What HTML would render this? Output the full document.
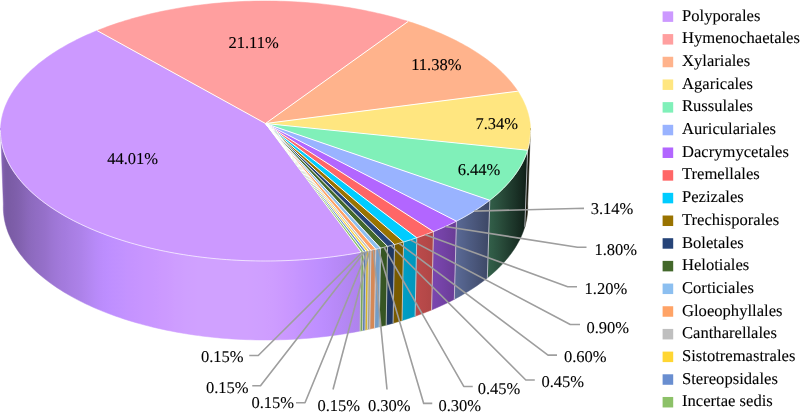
<!DOCTYPE html>
<html><head><meta charset="utf-8"><title>Pie</title>
<style>
html,body{margin:0;padding:0;background:#fff;}
body{width:800px;height:417px;overflow:hidden;position:relative;}
.t{font-family:"Liberation Serif",serif;fill:#000;text-rendering:geometricPrecision;stroke:#000;stroke-width:0.1px;}
</style></head><body>
<svg width="800" height="417" viewBox="0 0 800 417" style="position:absolute;left:0;top:0;will-change:transform">
<defs><linearGradient id="g0" gradientUnits="userSpaceOnUse" x1="1.94" y1="0" x2="360.65" y2="0"><stop offset="0%" stop-color="#8D6ABF"/><stop offset="0%" stop-color="#8D6ABE"/><stop offset="0%" stop-color="#8D6ABE"/><stop offset="0.01%" stop-color="#8C69BC"/><stop offset="0.06%" stop-color="#8967B9"/><stop offset="0.14%" stop-color="#8664B5"/><stop offset="0.23%" stop-color="#8362B1"/><stop offset="0.35%" stop-color="#8160AE"/><stop offset="0.49%" stop-color="#7F5FAB"/><stop offset="0.65%" stop-color="#7D5EA8"/><stop offset="0.84%" stop-color="#7B5CA6"/><stop offset="1.05%" stop-color="#7A5BA4"/><stop offset="1.28%" stop-color="#795BA4"/><stop offset="1.53%" stop-color="#795BA4"/><stop offset="1.81%" stop-color="#7A5BA4"/><stop offset="2.11%" stop-color="#7A5CA5"/><stop offset="2.43%" stop-color="#7B5CA6"/><stop offset="2.78%" stop-color="#7C5DA7"/><stop offset="3.15%" stop-color="#7D5DA8"/><stop offset="3.54%" stop-color="#7E5EA9"/><stop offset="3.95%" stop-color="#7E5FAB"/><stop offset="4.39%" stop-color="#8060AC"/><stop offset="4.84%" stop-color="#8161AE"/><stop offset="5.32%" stop-color="#8362B1"/><stop offset="5.83%" stop-color="#8564B3"/><stop offset="6.35%" stop-color="#8765B6"/><stop offset="6.9%" stop-color="#8967B9"/><stop offset="7.47%" stop-color="#8B68BC"/><stop offset="8.06%" stop-color="#8D6ABE"/><stop offset="8.67%" stop-color="#8E6BC0"/><stop offset="9.3%" stop-color="#906CC2"/><stop offset="9.95%" stop-color="#916DC4"/><stop offset="10.63%" stop-color="#936EC6"/><stop offset="11.33%" stop-color="#946FC8"/><stop offset="12.04%" stop-color="#9670CA"/><stop offset="12.78%" stop-color="#9872CD"/><stop offset="13.54%" stop-color="#9B74D1"/><stop offset="14.32%" stop-color="#9D76D4"/><stop offset="15.12%" stop-color="#9F77D7"/><stop offset="15.93%" stop-color="#A179D9"/><stop offset="16.77%" stop-color="#A37ADC"/><stop offset="17.63%" stop-color="#A47BDE"/><stop offset="18.5%" stop-color="#A67DE0"/><stop offset="19.4%" stop-color="#A87EE3"/><stop offset="20.31%" stop-color="#AA7FE5"/><stop offset="21.24%" stop-color="#AB81E7"/><stop offset="22.19%" stop-color="#AD82EA"/><stop offset="23.16%" stop-color="#B084ED"/><stop offset="24.14%" stop-color="#B286F1"/><stop offset="25.14%" stop-color="#B588F4"/><stop offset="26.16%" stop-color="#B78AF8"/><stop offset="27.2%" stop-color="#BA8BFB"/><stop offset="28.25%" stop-color="#BC8DFD"/><stop offset="29.31%" stop-color="#BD8EFF"/><stop offset="30.4%" stop-color="#BF8FFF"/><stop offset="31.49%" stop-color="#C090FF"/><stop offset="32.6%" stop-color="#C191FF"/><stop offset="33.73%" stop-color="#C292FF"/><stop offset="34.87%" stop-color="#C493FF"/><stop offset="36.02%" stop-color="#C593FF"/><stop offset="37.19%" stop-color="#C694FF"/><stop offset="38.37%" stop-color="#C795FF"/><stop offset="39.56%" stop-color="#C896FF"/><stop offset="40.76%" stop-color="#C996FF"/><stop offset="41.98%" stop-color="#C997FF"/><stop offset="43.21%" stop-color="#CA98FF"/><stop offset="44.44%" stop-color="#CC99FF"/><stop offset="45.69%" stop-color="#CC9AFF"/><stop offset="46.95%" stop-color="#CD9BFF"/><stop offset="48.22%" stop-color="#CE9DFF"/><stop offset="49.49%" stop-color="#CE9EFF"/><stop offset="50.78%" stop-color="#CF9FFF"/><stop offset="52.07%" stop-color="#CFA0FF"/><stop offset="53.37%" stop-color="#D0A0FF"/><stop offset="54.68%" stop-color="#D0A1FF"/><stop offset="55.99%" stop-color="#D0A1FF"/><stop offset="57.31%" stop-color="#D0A1FF"/><stop offset="58.64%" stop-color="#D0A1FF"/><stop offset="59.97%" stop-color="#D0A1FF"/><stop offset="61.31%" stop-color="#D0A1FF"/><stop offset="62.65%" stop-color="#D0A1FF"/><stop offset="63.99%" stop-color="#D0A1FF"/><stop offset="65.34%" stop-color="#D0A1FF"/><stop offset="66.69%" stop-color="#D0A1FF"/><stop offset="68.05%" stop-color="#D0A1FF"/><stop offset="69.4%" stop-color="#D0A0FF"/><stop offset="70.76%" stop-color="#CFA0FF"/><stop offset="72.12%" stop-color="#CF9FFF"/><stop offset="73.47%" stop-color="#CF9EFF"/><stop offset="74.83%" stop-color="#CE9DFF"/><stop offset="76.19%" stop-color="#CD9CFF"/><stop offset="77.55%" stop-color="#CC9AFF"/><stop offset="78.9%" stop-color="#CB98FF"/><stop offset="80.26%" stop-color="#C997FF"/><stop offset="81.61%" stop-color="#C796FF"/><stop offset="82.96%" stop-color="#C594FF"/><stop offset="84.3%" stop-color="#C393FF"/><stop offset="85.64%" stop-color="#C291FF"/><stop offset="86.98%" stop-color="#C090FF"/><stop offset="88.31%" stop-color="#BE8FFF"/><stop offset="89.64%" stop-color="#BC8DFE"/><stop offset="90.96%" stop-color="#BA8CFC"/><stop offset="92.27%" stop-color="#B98AF9"/><stop offset="93.58%" stop-color="#B789F7"/><stop offset="94.88%" stop-color="#B588F5"/><stop offset="96.17%" stop-color="#B387F2"/><stop offset="97.46%" stop-color="#B285F0"/><stop offset="98.73%" stop-color="#B084EE"/><stop offset="100%" stop-color="#AE83EB"/></linearGradient><linearGradient id="g3" gradientUnits="userSpaceOnUse" x1="526.21" y1="0" x2="529.06" y2="0"><stop offset="0%" stop-color="#201D10"/><stop offset="22.27%" stop-color="#1E1B0F"/><stop offset="41.81%" stop-color="#1C1A0E"/><stop offset="58.61%" stop-color="#1B180D"/><stop offset="72.69%" stop-color="#19170D"/><stop offset="84.03%" stop-color="#18160C"/><stop offset="92.64%" stop-color="#17150C"/><stop offset="98.54%" stop-color="#17150C"/><stop offset="100%" stop-color="#17140B"/><stop offset="100%" stop-color="#16140B"/><stop offset="100%" stop-color="#16140B"/></linearGradient><linearGradient id="g4" gradientUnits="userSpaceOnUse" x1="488.57" y1="0" x2="526.21" y2="0"><stop offset="0%" stop-color="#33604A"/><stop offset="6.4%" stop-color="#315C47"/><stop offset="12.62%" stop-color="#2F5944"/><stop offset="18.65%" stop-color="#2D5542"/><stop offset="24.49%" stop-color="#2B523F"/><stop offset="30.13%" stop-color="#2A4E3C"/><stop offset="35.59%" stop-color="#284A39"/><stop offset="40.85%" stop-color="#264736"/><stop offset="45.92%" stop-color="#244334"/><stop offset="50.8%" stop-color="#224031"/><stop offset="55.48%" stop-color="#203D2F"/><stop offset="59.96%" stop-color="#1F3A2D"/><stop offset="64.24%" stop-color="#1E372B"/><stop offset="68.33%" stop-color="#1C3529"/><stop offset="72.21%" stop-color="#1B3227"/><stop offset="75.9%" stop-color="#193025"/><stop offset="79.38%" stop-color="#182D23"/><stop offset="82.67%" stop-color="#172B21"/><stop offset="85.75%" stop-color="#162920"/><stop offset="88.63%" stop-color="#15271E"/><stop offset="91.31%" stop-color="#14251D"/><stop offset="93.79%" stop-color="#13231B"/><stop offset="96.06%" stop-color="#12221A"/><stop offset="98.13%" stop-color="#112019"/><stop offset="100%" stop-color="#101E17"/></linearGradient><linearGradient id="g5" gradientUnits="userSpaceOnUse" x1="455.39" y1="0" x2="488.57" y2="0"><stop offset="0%" stop-color="#5A6A96"/><stop offset="9.35%" stop-color="#586792"/><stop offset="18.52%" stop-color="#55648E"/><stop offset="27.51%" stop-color="#53618A"/><stop offset="36.32%" stop-color="#505E85"/><stop offset="44.94%" stop-color="#4D5B81"/><stop offset="53.38%" stop-color="#4B587D"/><stop offset="61.63%" stop-color="#495579"/><stop offset="69.69%" stop-color="#465275"/><stop offset="77.56%" stop-color="#445071"/><stop offset="85.24%" stop-color="#424D6D"/><stop offset="92.72%" stop-color="#3F4A6A"/><stop offset="100%" stop-color="#3D4866"/></linearGradient><linearGradient id="g6" gradientUnits="userSpaceOnUse" x1="432.53" y1="0" x2="455.39" y2="0"><stop offset="0%" stop-color="#7A46AF"/><stop offset="14.97%" stop-color="#7845AC"/><stop offset="29.72%" stop-color="#7644A9"/><stop offset="44.24%" stop-color="#7442A6"/><stop offset="58.53%" stop-color="#7141A2"/><stop offset="72.59%" stop-color="#6F3F9E"/><stop offset="86.42%" stop-color="#6C3E9A"/><stop offset="100%" stop-color="#693C96"/></linearGradient><linearGradient id="g7" gradientUnits="userSpaceOnUse" x1="415.92" y1="0" x2="432.53" y2="0"><stop offset="0%" stop-color="#BC4B4B"/><stop offset="20.49%" stop-color="#BA4A4A"/><stop offset="40.74%" stop-color="#B74949"/><stop offset="60.75%" stop-color="#B54848"/><stop offset="80.5%" stop-color="#B24747"/><stop offset="100%" stop-color="#AF4646"/></linearGradient><linearGradient id="g8" gradientUnits="userSpaceOnUse" x1="402.82" y1="0" x2="415.92" y2="0"><stop offset="0%" stop-color="#009EC5"/><stop offset="25.38%" stop-color="#009CC3"/><stop offset="50.51%" stop-color="#009AC1"/><stop offset="75.38%" stop-color="#0099BF"/><stop offset="100%" stop-color="#0097BC"/></linearGradient><linearGradient id="g9" gradientUnits="userSpaceOnUse" x1="393.79" y1="0" x2="402.82" y2="0"><stop offset="0%" stop-color="#795B00"/><stop offset="33.6%" stop-color="#785A00"/><stop offset="66.94%" stop-color="#775A00"/><stop offset="100%" stop-color="#765900"/></linearGradient><linearGradient id="g10" gradientUnits="userSpaceOnUse" x1="386.89" y1="0" x2="393.79" y2="0"><stop offset="0%" stop-color="#1F3761"/><stop offset="50.21%" stop-color="#1E3660"/><stop offset="100%" stop-color="#1E365F"/></linearGradient><linearGradient id="g11" gradientUnits="userSpaceOnUse" x1="379.87" y1="0" x2="386.89" y2="0"><stop offset="0%" stop-color="#375523"/><stop offset="50.2%" stop-color="#365523"/><stop offset="100%" stop-color="#365423"/></linearGradient><linearGradient id="g12" gradientUnits="userSpaceOnUse" x1="375.13" y1="0" x2="379.87" y2="0"><stop offset="0%" stop-color="#749EC7"/><stop offset="50.12%" stop-color="#739DC6"/><stop offset="100%" stop-color="#739DC5"/></linearGradient><linearGradient id="g13" gradientUnits="userSpaceOnUse" x1="370.34" y1="0" x2="375.13" y2="0"><stop offset="0%" stop-color="#D68855"/><stop offset="50.12%" stop-color="#D48855"/><stop offset="100%" stop-color="#D38755"/></linearGradient><linearGradient id="g14" gradientUnits="userSpaceOnUse" x1="367.94" y1="0" x2="370.34" y2="0"><stop offset="0%" stop-color="#A1A1A1"/><stop offset="50.06%" stop-color="#A0A0A0"/><stop offset="100%" stop-color="#A0A0A0"/></linearGradient><linearGradient id="g15" gradientUnits="userSpaceOnUse" x1="365.52" y1="0" x2="367.94" y2="0"><stop offset="0%" stop-color="#D8B52B"/><stop offset="50.05%" stop-color="#D7B52B"/><stop offset="100%" stop-color="#D7B42B"/></linearGradient><linearGradient id="g16" gradientUnits="userSpaceOnUse" x1="363.09" y1="0" x2="365.52" y2="0"><stop offset="0%" stop-color="#5979B1"/><stop offset="50.05%" stop-color="#5978B0"/><stop offset="100%" stop-color="#5978B0"/></linearGradient><linearGradient id="g17" gradientUnits="userSpaceOnUse" x1="360.65" y1="0" x2="363.09" y2="0"><stop offset="0%" stop-color="#78A559"/><stop offset="50.05%" stop-color="#77A559"/><stop offset="100%" stop-color="#77A458"/></linearGradient></defs>
<polygon points="361.19,252.24 356.62,253.08 352.01,253.88 347.38,254.64 342.72,255.36 338.03,256.04 333.31,256.68 328.57,257.27 323.8,257.82 319.02,258.33 314.22,258.79 309.39,259.21 304.56,259.58 299.71,259.92 294.84,260.2 289.97,260.45 285.08,260.65 280.19,260.8 275.3,260.92 270.4,260.98 265.5,261 260.6,260.98 255.7,260.92 250.81,260.8 245.92,260.65 241.03,260.45 236.16,260.2 231.29,259.92 226.44,259.58 221.61,259.21 216.78,258.79 211.98,258.33 207.2,257.82 202.43,257.27 197.69,256.68 192.97,256.04 188.28,255.36 183.62,254.64 178.99,253.88 174.38,253.08 169.81,252.24 165.28,251.35 160.78,250.43 156.31,249.46 151.89,248.45 147.5,247.41 143.16,246.33 138.86,245.2 134.61,244.04 130.4,242.85 126.24,241.61 122.13,240.34 118.07,239.03 114.06,237.69 110.1,236.31 106.2,234.9 102.36,233.46 98.57,231.98 94.84,230.47 91.16,228.92 87.55,227.35 84,225.74 80.52,224.1 77.09,222.44 73.73,220.74 70.44,219.02 67.22,217.27 64.06,215.49 60.97,213.68 57.95,211.85 55,209.99 52.12,208.11 49.31,206.21 46.58,204.28 43.92,202.33 41.33,200.36 38.82,198.37 36.39,196.36 34.03,194.33 31.75,192.28 29.54,190.21 27.42,188.12 25.37,186.02 23.4,183.91 21.51,181.77 19.7,179.63 17.97,177.47 16.32,175.29 14.75,173.11 13.26,170.91 11.85,168.71 10.53,166.49 9.28,164.27 8.12,162.03 7.04,159.79 6.04,157.54 5.13,155.29 4.29,153.03 3.54,150.77 2.87,148.5 2.28,146.23 1.78,143.95 1.35,141.68 1.01,139.4 0.75,137.13 0.57,134.85 0.48,132.57 0.46,130.3 0.53,128.03 3.36,204.09 3.3,206.42 3.32,208.74 3.42,211.07 3.6,213.4 3.86,215.72 4.2,218.05 4.62,220.38 5.12,222.7 5.7,225.03 6.37,227.34 7.12,229.66 7.94,231.97 8.85,234.27 9.84,236.57 10.91,238.86 12.07,241.15 13.3,243.42 14.61,245.69 16.01,247.94 17.48,250.19 19.04,252.42 20.67,254.64 22.39,256.85 24.18,259.05 26.05,261.23 28,263.39 30.03,265.54 32.14,267.67 34.32,269.78 36.58,271.88 38.91,273.95 41.32,276.01 43.81,278.05 46.37,280.06 49,282.05 51.7,284.02 54.48,285.97 57.33,287.89 60.25,289.79 63.24,291.66 66.29,293.5 69.42,295.32 72.61,297.11 75.87,298.87 79.19,300.6 82.58,302.31 86.03,303.98 89.54,305.62 93.11,307.23 96.74,308.81 100.43,310.35 104.18,311.86 107.99,313.34 111.85,314.78 115.76,316.19 119.72,317.56 123.74,318.9 127.81,320.2 131.92,321.46 136.08,322.68 140.29,323.87 144.54,325.01 148.83,326.12 153.17,327.19 157.54,328.21 161.96,329.2 166.41,330.15 170.89,331.05 175.41,331.91 179.96,332.73 184.54,333.51 189.16,334.25 193.79,334.94 198.46,335.59 203.15,336.19 207.86,336.75 212.59,337.27 217.34,337.74 222.1,338.17 226.89,338.56 231.68,338.9 236.49,339.19 241.31,339.44 246.14,339.64 250.97,339.8 255.81,339.92 260.65,339.98 265.5,340.01 270.35,339.98 275.19,339.92 280.03,339.8 284.86,339.64 289.69,339.44 294.51,339.19 299.32,338.9 304.11,338.56 308.9,338.17 313.66,337.74 318.41,337.27 323.14,336.75 327.85,336.19 332.54,335.59 337.21,334.94 341.84,334.25 346.46,333.51 351.04,332.73 355.59,331.91 360.11,331.05" fill="url(#g0)" stroke="url(#g0)" stroke-width="0.5"/>
<polygon points="530.47,128.03 530.54,130.25 530.52,132.47 530.43,134.69 530.27,136.91 530.02,139.13 529.7,141.36 529.3,143.58 528.82,145.8 528.26,148.02 527.63,150.23 524.8,226.8 525.43,224.53 525.98,222.26 526.46,219.99 526.86,217.72 527.18,215.45 527.42,213.18 527.59,210.9 527.68,208.63 527.7,206.36 527.64,204.09" fill="url(#g3)" stroke="url(#g3)" stroke-width="0.5"/>
<polygon points="527.63,150.23 526.92,152.42 526.14,154.6 525.28,156.78 524.34,158.95 523.33,161.12 522.24,163.28 521.08,165.43 519.83,167.58 518.52,169.71 517.12,171.84 515.65,173.96 514.11,176.06 512.49,178.16 510.8,180.24 509.03,182.31 507.18,184.37 505.27,186.41 503.27,188.43 501.21,190.45 499.07,192.44 496.87,194.42 494.58,196.38 492.23,198.32 489.81,200.25 487.34,277.93 489.73,275.96 492.06,273.98 494.32,271.97 496.5,269.95 498.62,267.91 500.66,265.85 502.63,263.78 504.53,261.7 506.36,259.59 508.11,257.48 509.79,255.35 511.39,253.21 512.92,251.06 514.38,248.89 515.76,246.72 517.07,244.53 518.3,242.34 519.45,240.14 520.53,237.93 521.54,235.72 522.46,233.49 523.32,231.27 524.09,229.03 524.8,226.8" fill="url(#g4)" stroke="url(#g4)" stroke-width="0.5"/>
<polygon points="489.81,200.25 487.38,202.11 484.89,203.95 482.33,205.77 479.7,207.56 477.01,209.34 474.26,211.1 471.44,212.83 468.57,214.55 465.63,216.24 462.63,217.9 459.57,219.54 456.45,221.16 454.32,299.3 457.41,297.65 460.44,295.97 463.4,294.27 466.31,292.54 469.16,290.79 471.95,289.02 474.67,287.22 477.33,285.41 479.93,283.57 482.46,281.71 484.93,279.83 487.34,277.93" fill="url(#g5)" stroke="url(#g5)" stroke-width="0.5"/>
<polygon points="456.45,221.16 453.33,222.72 450.15,224.26 446.92,225.77 443.64,227.26 440.3,228.72 436.91,230.16 433.47,231.56 431.59,309.93 434.99,308.49 438.35,307.03 441.65,305.53 444.9,304.01 448.09,302.47 451.24,300.9 454.32,299.3" fill="url(#g6)" stroke="url(#g6)" stroke-width="0.5"/>
<polygon points="433.47,231.56 430.21,232.85 426.92,234.11 423.57,235.35 420.19,236.56 416.77,237.75 415.07,316.25 418.46,315.04 421.8,313.8 425.11,312.54 428.37,311.25 431.59,309.93" fill="url(#g7)" stroke="url(#g7)" stroke-width="0.5"/>
<polygon points="416.77,237.75 413.53,238.84 410.25,239.9 406.94,240.95 403.59,241.96 402.04,320.56 405.35,319.52 408.62,318.45 411.87,317.36 415.07,316.25" fill="url(#g8)" stroke="url(#g8)" stroke-width="0.5"/>
<polygon points="403.59,241.96 400.59,242.85 397.57,243.72 394.52,244.56 393.07,323.21 396.08,322.35 399.07,321.46 402.04,320.56" fill="url(#g9)" stroke="url(#g9)" stroke-width="0.5"/>
<polygon points="394.52,244.56 391.06,245.49 387.57,246.39 386.2,325.08 389.65,324.16 393.07,323.21" fill="url(#g10)" stroke="url(#g10)" stroke-width="0.5"/>
<polygon points="387.57,246.39 384.06,247.27 380.51,248.13 379.22,326.85 382.72,325.98 386.2,325.08" fill="url(#g11)" stroke="url(#g11)" stroke-width="0.5"/>
<polygon points="380.51,248.13 378.14,248.68 375.75,249.22 374.51,327.97 376.87,327.42 379.22,326.85" fill="url(#g12)" stroke="url(#g12)" stroke-width="0.5"/>
<polygon points="375.75,249.22 373.35,249.75 370.94,250.27 369.75,329.05 372.13,328.51 374.51,327.97" fill="url(#g13)" stroke="url(#g13)" stroke-width="0.5"/>
<polygon points="370.94,250.27 369.73,250.53 368.52,250.78 367.35,329.56 368.55,329.31 369.75,329.05" fill="url(#g14)" stroke="url(#g14)" stroke-width="0.5"/>
<polygon points="368.52,250.78 367.3,251.03 366.08,251.28 364.95,330.07 366.15,329.82 367.35,329.56" fill="url(#g15)" stroke="url(#g15)" stroke-width="0.5"/>
<polygon points="366.08,251.28 364.86,251.52 363.64,251.76 362.53,330.57 363.74,330.32 364.95,330.07" fill="url(#g16)" stroke="url(#g16)" stroke-width="0.5"/>
<polygon points="363.64,251.76 362.41,252 361.19,252.24 360.11,331.05 361.32,330.81 362.53,330.57" fill="url(#g17)" stroke="url(#g17)" stroke-width="0.5"/>
<line x1="361.19" y1="252.24" x2="360.11" y2="331.05" stroke="#DCDCE4" stroke-width="0.9" stroke-opacity="0.85"/>
<line x1="527.63" y1="150.23" x2="524.8" y2="226.8" stroke="#DCDCE4" stroke-width="0.9" stroke-opacity="0.85"/>
<line x1="489.81" y1="200.25" x2="487.34" y2="277.93" stroke="#DCDCE4" stroke-width="0.9" stroke-opacity="0.85"/>
<line x1="456.45" y1="221.16" x2="454.32" y2="299.3" stroke="#DCDCE4" stroke-width="0.9" stroke-opacity="0.85"/>
<line x1="433.47" y1="231.56" x2="431.59" y2="309.93" stroke="#DCDCE4" stroke-width="0.9" stroke-opacity="0.85"/>
<line x1="416.77" y1="237.75" x2="415.07" y2="316.25" stroke="#DCDCE4" stroke-width="0.9" stroke-opacity="0.85"/>
<line x1="403.59" y1="241.96" x2="402.04" y2="320.56" stroke="#DCDCE4" stroke-width="0.9" stroke-opacity="0.85"/>
<line x1="394.52" y1="244.56" x2="393.07" y2="323.21" stroke="#DCDCE4" stroke-width="0.9" stroke-opacity="0.85"/>
<line x1="387.57" y1="246.39" x2="386.2" y2="325.08" stroke="#DCDCE4" stroke-width="0.9" stroke-opacity="0.85"/>
<line x1="380.51" y1="248.13" x2="379.22" y2="326.85" stroke="#DCDCE4" stroke-width="0.9" stroke-opacity="0.85"/>
<line x1="375.75" y1="249.22" x2="374.51" y2="327.97" stroke="#DCDCE4" stroke-width="0.9" stroke-opacity="0.85"/>
<line x1="370.94" y1="250.27" x2="369.75" y2="329.05" stroke="#DCDCE4" stroke-width="0.9" stroke-opacity="0.85"/>
<line x1="368.52" y1="250.78" x2="367.35" y2="329.56" stroke="#DCDCE4" stroke-width="0.9" stroke-opacity="0.85"/>
<line x1="366.08" y1="251.28" x2="364.95" y2="330.07" stroke="#DCDCE4" stroke-width="0.9" stroke-opacity="0.85"/>
<line x1="363.64" y1="251.76" x2="362.53" y2="330.57" stroke="#DCDCE4" stroke-width="0.9" stroke-opacity="0.85"/>
<polygon points="265.5,123.5 361.19,252.24 356.63,253.08 352.05,253.88 347.43,254.64 342.79,255.35 338.11,256.03 333.42,256.66 328.69,257.25 323.95,257.8 319.18,258.31 314.4,258.77 309.59,259.19 304.77,259.57 299.94,259.9 295.1,260.19 290.24,260.44 285.38,260.64 280.51,260.8 275.63,260.91 270.75,260.98 265.87,261 260.98,260.99 256.1,260.92 251.23,260.82 246.35,260.66 241.49,260.47 236.63,260.23 231.79,259.95 226.95,259.62 222.13,259.25 217.33,258.84 212.54,258.38 207.77,257.88 203.02,257.34 198.29,256.76 193.59,256.13 188.91,255.46 184.27,254.75 179.64,253.99 175.05,253.2 170.5,252.37 165.97,251.49 161.48,250.57 157.03,249.62 152.62,248.62 148.24,247.59 143.91,246.52 139.62,245.4 135.37,244.26 131.17,243.07 127.02,241.85 122.91,240.59 118.86,239.29 114.85,237.96 110.9,236.6 107,235.2 103.16,233.76 99.37,232.3 95.64,230.8 91.97,229.27 88.36,227.7 84.81,226.11 81.32,224.49 77.89,222.83 74.53,221.15 71.24,219.44 68.01,217.7 64.84,215.94 61.75,214.14 58.72,212.33 55.76,210.48 52.88,208.62 50.06,206.73 47.32,204.81 44.65,202.88 42.05,200.92 39.53,198.94 37.08,196.94 34.71,194.92 32.41,192.89 30.19,190.83 28.05,188.76 25.99,186.67 24,184.57 22.09,182.45 20.26,180.31 18.52,178.16 16.85,176 15.26,173.83 13.75,171.65 12.32,169.45 10.97,167.25 9.7,165.03 8.52,162.81 7.41,160.58 6.39,158.34 5.45,156.1 4.58,153.85 3.81,151.6 3.11,149.34 2.49,147.08 1.96,144.81 1.51,142.55 1.13,140.28 0.84,138.01 0.63,135.75 0.51,133.48 0.46,131.21 0.49,128.95 0.6,126.69 0.8,124.43 1.07,122.18 1.42,119.93 1.85,117.69 2.36,115.45 2.95,113.23 3.61,111 4.36,108.79 5.17,106.59 6.07,104.39 7.04,102.21 8.09,100.03 9.21,97.87 10.41,95.72 11.68,93.58 13.02,91.45 14.44,89.34 15.92,87.24 17.48,85.16 19.11,83.09 20.81,81.04 22.58,79 24.42,76.98 26.33,74.98 28.3,73 30.34,71.04 32.44,69.09 34.61,67.16 36.85,65.26 39.15,63.37 41.51,61.51 43.93,59.66 46.41,57.84 48.96,56.04 51.56,54.26 54.22,52.51 56.94,50.78 59.71,49.07 62.55,47.39 65.43,45.73 68.37,44.1 71.36,42.5 74.41,40.92 77.51,39.36 80.65,37.83 83.85,36.33 87.09,34.86 90.38,33.42 93.72,32 97.11,30.61" fill="#CC99FF" stroke="#CC99FF" stroke-width="0.5"/>
<polygon points="265.5,123.5 97.11,30.61 100.55,29.24 104.03,27.91 107.56,26.6 111.13,25.33 114.73,24.08 118.38,22.86 122.07,21.68 125.8,20.52 129.56,19.4 133.35,18.31 137.19,17.25 141.05,16.22 144.95,15.22 148.88,14.26 152.84,13.33 156.83,12.43 160.84,11.56 164.89,10.73 168.96,9.93 173.05,9.16 177.17,8.43 181.31,7.73 185.47,7.07 189.66,6.43 193.86,5.84 198.08,5.27 202.32,4.75 206.57,4.25 210.84,3.79 215.13,3.37 219.42,2.98 223.73,2.62 228.05,2.3 232.38,2.02 236.72,1.77 241.06,1.55 245.41,1.37 249.77,1.23 254.13,1.12 258.49,1.04 262.85,1 267.22,1 271.58,1.03 275.95,1.1 280.31,1.2 284.66,1.34 289.02,1.51 293.36,1.72 297.7,1.96 302.03,2.24 306.35,2.55 310.66,2.9 314.96,3.28 319.25,3.7 323.52,4.15 327.78,4.64 332.02,5.16 336.25,5.72 340.45,6.31 344.64,6.93 348.81,7.59 352.95,8.28 357.08,9 361.18,9.76 365.25,10.56 369.3,11.38 373.32,12.24 377.32,13.13 381.28,14.06 385.22,15.02 389.12,16.01 393,17.03 396.83,18.08 400.64,19.17 404.41,20.28 408.14,21.43" fill="#FF9F9F" stroke="#FF9F9F" stroke-width="0.5"/>
<polygon points="265.5,123.5 408.14,21.43 411.83,22.61 415.49,23.82 419.1,25.06 422.68,26.33 426.21,27.62 429.7,28.95 433.15,30.31 436.55,31.7 439.91,33.11 443.22,34.56 446.48,36.03 449.7,37.53 452.86,39.05 455.98,40.6 459.04,42.18 462.05,43.79 465.01,45.42 467.92,47.08 470.77,48.76 473.56,50.47 476.3,52.2 478.97,53.95 481.6,55.73 484.16,57.53 486.66,59.35 489.1,61.2 491.47,63.07 493.79,64.95 496.04,66.86 498.22,68.79 500.35,70.74 502.4,72.71 504.39,74.69 506.31,76.7 508.16,78.72 509.95,80.76 511.66,82.81 513.31,84.89 514.88,86.97 516.38,89.07 517.81,91.19" fill="#FFB38C" stroke="#FFB38C" stroke-width="0.5"/>
<polygon points="265.5,123.5 517.81,91.19 519.14,93.28 520.4,95.38 521.58,97.49 522.7,99.61 523.74,101.74 524.71,103.89 525.61,106.04 526.43,108.2 527.18,110.37 527.86,112.55 528.46,114.74 528.99,116.93 529.43,119.13 529.81,121.34 530.11,123.55 530.33,125.76 530.47,127.98 530.54,130.2 530.53,132.43 530.44,134.65 530.27,136.88 530.03,139.11 529.7,141.34 529.3,143.56 528.82,145.79 528.26,148.01 527.63,150.23" fill="#FFE680" stroke="#FFE680" stroke-width="0.5"/>
<polygon points="265.5,123.5 527.63,150.23 526.92,152.42 526.14,154.6 525.28,156.78 524.34,158.95 523.33,161.12 522.24,163.28 521.08,165.43 519.83,167.58 518.52,169.71 517.12,171.84 515.65,173.96 514.11,176.06 512.49,178.16 510.8,180.24 509.03,182.31 507.18,184.37 505.27,186.41 503.27,188.43 501.21,190.45 499.07,192.44 496.87,194.42 494.58,196.38 492.23,198.32 489.81,200.25" fill="#80F0B9" stroke="#80F0B9" stroke-width="0.5"/>
<polygon points="265.5,123.5 489.81,200.25 487.38,202.11 484.89,203.95 482.33,205.77 479.7,207.56 477.01,209.34 474.26,211.1 471.44,212.83 468.57,214.55 465.63,216.24 462.63,217.9 459.57,219.54 456.45,221.16" fill="#99B3FF" stroke="#99B3FF" stroke-width="0.5"/>
<polygon points="265.5,123.5 456.45,221.16 453.33,222.72 450.15,224.26 446.92,225.77 443.64,227.26 440.3,228.72 436.91,230.16 433.47,231.56" fill="#B266FF" stroke="#B266FF" stroke-width="0.5"/>
<polygon points="265.5,123.5 433.47,231.56 430.21,232.85 426.92,234.11 423.57,235.35 420.19,236.56 416.77,237.75" fill="#FF6666" stroke="#FF6666" stroke-width="0.5"/>
<polygon points="265.5,123.5 416.77,237.75 413.53,238.84 410.25,239.9 406.94,240.95 403.59,241.96" fill="#00CCFF" stroke="#00CCFF" stroke-width="0.5"/>
<polygon points="265.5,123.5 403.59,241.96 400.59,242.85 397.57,243.72 394.52,244.56" fill="#997300" stroke="#997300" stroke-width="0.5"/>
<polygon points="265.5,123.5 394.52,244.56 391.06,245.49 387.57,246.39" fill="#264478" stroke="#264478" stroke-width="0.5"/>
<polygon points="265.5,123.5 387.57,246.39 384.06,247.27 380.51,248.13" fill="#43682B" stroke="#43682B" stroke-width="0.5"/>
<polygon points="265.5,123.5 380.51,248.13 378.14,248.68 375.75,249.22" fill="#8CBFF0" stroke="#8CBFF0" stroke-width="0.5"/>
<polygon points="265.5,123.5 375.75,249.22 373.35,249.75 370.94,250.27" fill="#FFA366" stroke="#FFA366" stroke-width="0.5"/>
<polygon points="265.5,123.5 370.94,250.27 369.73,250.53 368.52,250.78" fill="#BFBFBF" stroke="#BFBFBF" stroke-width="0.5"/>
<polygon points="265.5,123.5 368.52,250.78 367.3,251.03 366.08,251.28" fill="#FFD633" stroke="#FFD633" stroke-width="0.5"/>
<polygon points="265.5,123.5 366.08,251.28 364.86,251.52 363.64,251.76" fill="#698ED0" stroke="#698ED0" stroke-width="0.5"/>
<polygon points="265.5,123.5 363.64,251.76 362.41,252 361.19,252.24" fill="#8CC168" stroke="#8CC168" stroke-width="0.5"/>
<line x1="265.5" y1="123.5" x2="361.19" y2="252.24" stroke="#FFFFFF" stroke-width="1"/>
<line x1="265.5" y1="123.5" x2="97.11" y2="30.61" stroke="#FFFFFF" stroke-width="1"/>
<line x1="265.5" y1="123.5" x2="408.14" y2="21.43" stroke="#FFFFFF" stroke-width="1"/>
<line x1="265.5" y1="123.5" x2="517.81" y2="91.19" stroke="#FFFFFF" stroke-width="1"/>
<line x1="265.5" y1="123.5" x2="527.63" y2="150.23" stroke="#FFFFFF" stroke-width="1"/>
<line x1="265.5" y1="123.5" x2="489.81" y2="200.25" stroke="#FFFFFF" stroke-width="1"/>
<line x1="265.5" y1="123.5" x2="456.45" y2="221.16" stroke="#FFFFFF" stroke-width="1"/>
<line x1="265.5" y1="123.5" x2="433.47" y2="231.56" stroke="#FFFFFF" stroke-width="1"/>
<line x1="265.5" y1="123.5" x2="416.77" y2="237.75" stroke="#FFFFFF" stroke-width="1"/>
<line x1="265.5" y1="123.5" x2="403.59" y2="241.96" stroke="#FFFFFF" stroke-width="1"/>
<line x1="265.5" y1="123.5" x2="394.52" y2="244.56" stroke="#FFFFFF" stroke-width="1"/>
<line x1="265.5" y1="123.5" x2="387.57" y2="246.39" stroke="#FFFFFF" stroke-width="1"/>
<line x1="265.5" y1="123.5" x2="380.51" y2="248.13" stroke="#FFFFFF" stroke-width="1"/>
<line x1="265.5" y1="123.5" x2="375.75" y2="249.22" stroke="#FFFFFF" stroke-width="1"/>
<line x1="265.5" y1="123.5" x2="370.94" y2="250.27" stroke="#FFFFFF" stroke-width="1"/>
<line x1="265.5" y1="123.5" x2="368.52" y2="250.78" stroke="#FFFFFF" stroke-width="1"/>
<line x1="265.5" y1="123.5" x2="366.08" y2="251.28" stroke="#FFFFFF" stroke-width="1"/>
<line x1="265.5" y1="123.5" x2="363.64" y2="251.76" stroke="#FFFFFF" stroke-width="1"/>
<polyline points="530.54,130.3 530.52,132.57 530.43,134.85 530.25,137.13 529.99,139.4 529.65,141.68 529.22,143.95 528.72,146.23 528.13,148.5 527.46,150.77 526.71,153.03 525.87,155.29 524.96,157.54 523.96,159.79 522.88,162.03 521.72,164.27 520.47,166.49 519.15,168.71 517.74,170.91 516.25,173.11 514.68,175.29 513.03,177.47 511.3,179.63 509.49,181.77 507.6,183.91 505.63,186.02 503.58,188.12 501.46,190.21 499.25,192.28 496.97,194.33 494.61,196.36 492.18,198.37 489.67,200.36 487.08,202.33 484.42,204.28 481.69,206.21 478.88,208.11 476,209.99 473.05,211.85 470.03,213.68 466.94,215.49 463.78,217.27 460.56,219.02 457.27,220.74 453.91,222.44 450.48,224.1 447,225.74 443.45,227.35 439.84,228.92 436.16,230.47 432.43,231.98 428.64,233.46 424.8,234.9 420.9,236.31 416.94,237.69 412.93,239.03 408.87,240.34 404.76,241.61 400.6,242.85 396.39,244.04 392.14,245.2 387.84,246.33 383.5,247.41 379.11,248.45 374.69,249.46 370.22,250.43 365.72,251.35 361.19,252.24 356.62,253.08 352.01,253.88 347.38,254.64 342.72,255.36 338.03,256.04 333.31,256.68 328.57,257.27 323.8,257.82 319.02,258.33 314.22,258.79 309.39,259.21 304.56,259.58 299.71,259.92 294.84,260.2 289.97,260.45 285.08,260.65 280.19,260.8 275.3,260.92 270.4,260.98 265.5,261 260.6,260.98 255.7,260.92 250.81,260.8 245.92,260.65 241.03,260.45 236.16,260.2 231.29,259.92 226.44,259.58 221.61,259.21 216.78,258.79 211.98,258.33 207.2,257.82 202.43,257.27 197.69,256.68 192.97,256.04 188.28,255.36 183.62,254.64 178.99,253.88 174.38,253.08 169.81,252.24 165.28,251.35 160.78,250.43 156.31,249.46 151.89,248.45 147.5,247.41 143.16,246.33 138.86,245.2 134.61,244.04 130.4,242.85 126.24,241.61 122.13,240.34 118.07,239.03 114.06,237.69 110.1,236.31 106.2,234.9 102.36,233.46 98.57,231.98 94.84,230.47 91.16,228.92 87.55,227.35 84,225.74 80.52,224.1 77.09,222.44 73.73,220.74 70.44,219.02 67.22,217.27 64.06,215.49 60.97,213.68 57.95,211.85 55,209.99 52.12,208.11 49.31,206.21 46.58,204.28 43.92,202.33 41.33,200.36 38.82,198.37 36.39,196.36 34.03,194.33 31.75,192.28 29.54,190.21 27.42,188.12 25.37,186.02 23.4,183.91 21.51,181.77 19.7,179.63 17.97,177.47 16.32,175.29 14.75,173.11 13.26,170.91 11.85,168.71 10.53,166.49 9.28,164.27 8.12,162.03 7.04,159.79 6.04,157.54 5.13,155.29 4.29,153.03 3.54,150.77 2.87,148.5 2.28,146.23 1.78,143.95 1.35,141.68 1.01,139.4 0.75,137.13 0.57,134.85 0.48,132.57 0.46,130.3" fill="none" stroke="#FFFFFF" stroke-width="0.8" stroke-opacity="0.85"/>
<polyline points="474.26,211.1 575,208.45 584,208.4" fill="none" stroke="#9E9E9E" stroke-width="1.6" stroke-linejoin="round"/>
<polyline points="445.29,226.52 577.5,247.25 586.5,247.25" fill="none" stroke="#9E9E9E" stroke-width="1.6" stroke-linejoin="round"/>
<polyline points="425.25,234.74 567.7,286.7 577,286.7" fill="none" stroke="#9E9E9E" stroke-width="1.6" stroke-linejoin="round"/>
<polyline points="410.25,239.9 570.25,324.45 580,324.45" fill="none" stroke="#9E9E9E" stroke-width="1.6" stroke-linejoin="round"/>
<polyline points="399.08,243.28 548,355.1 557,355.1" fill="none" stroke="#9E9E9E" stroke-width="1.6" stroke-linejoin="round"/>
<polyline points="391.06,245.49 525.8,380 534.8,380" fill="none" stroke="#9E9E9E" stroke-width="1.6" stroke-linejoin="round"/>
<polyline points="384.06,247.27 463.75,386.45 472.75,386.45" fill="none" stroke="#9E9E9E" stroke-width="1.6" stroke-linejoin="round"/>
<polyline points="378.14,248.68 423.7,403.4 432.25,403.4" fill="none" stroke="#9E9E9E" stroke-width="1.6" stroke-linejoin="round"/>
<polyline points="373.35,249.75 387,389.5" fill="none" stroke="#9E9E9E" stroke-width="1.6" stroke-linejoin="round"/>
<polyline points="369.73,250.53 333,389.5" fill="none" stroke="#9E9E9E" stroke-width="1.6" stroke-linejoin="round"/>
<polyline points="367.3,251.03 305,402.7 296,402.7" fill="none" stroke="#9E9E9E" stroke-width="1.6" stroke-linejoin="round"/>
<polyline points="364.86,251.52 260.5,385.75 252.25,385.75" fill="none" stroke="#9E9E9E" stroke-width="1.6" stroke-linejoin="round"/>
<polyline points="362.41,252 258.25,355.45 249.25,355.45" fill="none" stroke="#9E9E9E" stroke-width="1.6" stroke-linejoin="round"/>
<text x="107.2" y="163.75" font-size="16.5" class="t">44.01%</text>
<text x="228.45" y="47.5" font-size="16.5" class="t">21.11%</text>
<text x="411.2" y="69.5" font-size="16.5" class="t">11.38%</text>
<text x="475.45" y="128.5" font-size="16.5" class="t">7.34%</text>
<text x="457.7" y="175.3" font-size="16.5" class="t">6.44%</text>
<text x="590.7" y="214.4" font-size="16.5" class="t">3.14%</text>
<text x="594.4" y="254.6" font-size="16.5" class="t">1.80%</text>
<text x="584.6" y="293.75" font-size="16.5" class="t">1.20%</text>
<text x="586.45" y="332.5" font-size="16.5" class="t">0.90%</text>
<text x="563.9" y="361.75" font-size="16.5" class="t">0.60%</text>
<text x="541.4" y="387.25" font-size="16.5" class="t">0.45%</text>
<text x="477.7" y="393.5" font-size="16.5" class="t">0.45%</text>
<text x="438.4" y="410.75" font-size="16.5" class="t">0.30%</text>
<text x="367.95" y="410.8" font-size="16.5" class="t">0.30%</text>
<text x="317.4" y="410.8" font-size="16.5" class="t">0.15%</text>
<text x="251.45" y="408.25" font-size="16.5" class="t">0.15%</text>
<text x="205.9" y="392.8" font-size="16.5" class="t">0.15%</text>
<text x="200.95" y="361.75" font-size="16.5" class="t">0.15%</text>
<rect x="662.6" y="11.4" width="10.6" height="10.5" fill="#CC99FF"/>
<text x="682" y="20.7" font-size="16.6" class="t">Polyporales</text>
<rect x="662.6" y="34.08" width="10.6" height="10.5" fill="#FF9F9F"/>
<text x="682" y="43.38" font-size="16.6" class="t">Hymenochaetales</text>
<rect x="662.6" y="56.76" width="10.6" height="10.5" fill="#FFB38C"/>
<text x="682" y="66.06" font-size="16.6" class="t">Xylariales</text>
<rect x="662.6" y="79.44" width="10.6" height="10.5" fill="#FFE680"/>
<text x="682" y="88.74" font-size="16.6" class="t">Agaricales</text>
<rect x="662.6" y="102.12" width="10.6" height="10.5" fill="#80F0B9"/>
<text x="682" y="111.42" font-size="16.6" class="t">Russulales</text>
<rect x="662.6" y="124.8" width="10.6" height="10.5" fill="#99B3FF"/>
<text x="682" y="134.1" font-size="16.6" class="t">Auriculariales</text>
<rect x="662.6" y="147.48" width="10.6" height="10.5" fill="#B266FF"/>
<text x="682" y="156.78" font-size="16.6" class="t">Dacrymycetales</text>
<rect x="662.6" y="170.16" width="10.6" height="10.5" fill="#FF6666"/>
<text x="682" y="179.46" font-size="16.6" class="t">Tremellales</text>
<rect x="662.6" y="192.84" width="10.6" height="10.5" fill="#00CCFF"/>
<text x="682" y="202.14" font-size="16.6" class="t">Pezizales</text>
<rect x="662.6" y="215.52" width="10.6" height="10.5" fill="#997300"/>
<text x="682" y="224.82" font-size="16.6" class="t">Trechisporales</text>
<rect x="662.6" y="238.2" width="10.6" height="10.5" fill="#264478"/>
<text x="682" y="247.5" font-size="16.6" class="t">Boletales</text>
<rect x="662.6" y="260.88" width="10.6" height="10.5" fill="#43682B"/>
<text x="682" y="270.18" font-size="16.6" class="t">Helotiales</text>
<rect x="662.6" y="283.56" width="10.6" height="10.5" fill="#8CBFF0"/>
<text x="682" y="292.86" font-size="16.6" class="t">Corticiales</text>
<rect x="662.6" y="306.24" width="10.6" height="10.5" fill="#FFA366"/>
<text x="682" y="315.54" font-size="16.6" class="t">Gloeophyllales</text>
<rect x="662.6" y="328.92" width="10.6" height="10.5" fill="#BFBFBF"/>
<text x="682" y="338.22" font-size="16.6" class="t">Cantharellales</text>
<rect x="662.6" y="351.6" width="10.6" height="10.5" fill="#FFD633"/>
<text x="682" y="360.9" font-size="16.6" class="t">Sistotremastrales</text>
<rect x="662.6" y="374.28" width="10.6" height="10.5" fill="#698ED0"/>
<text x="682" y="383.58" font-size="16.6" class="t">Stereopsidales</text>
<rect x="662.6" y="396.96" width="10.6" height="10.5" fill="#8CC168"/>
<text x="682" y="406.26" font-size="16.6" class="t">Incertae sedis</text>
</svg>
</body></html>
